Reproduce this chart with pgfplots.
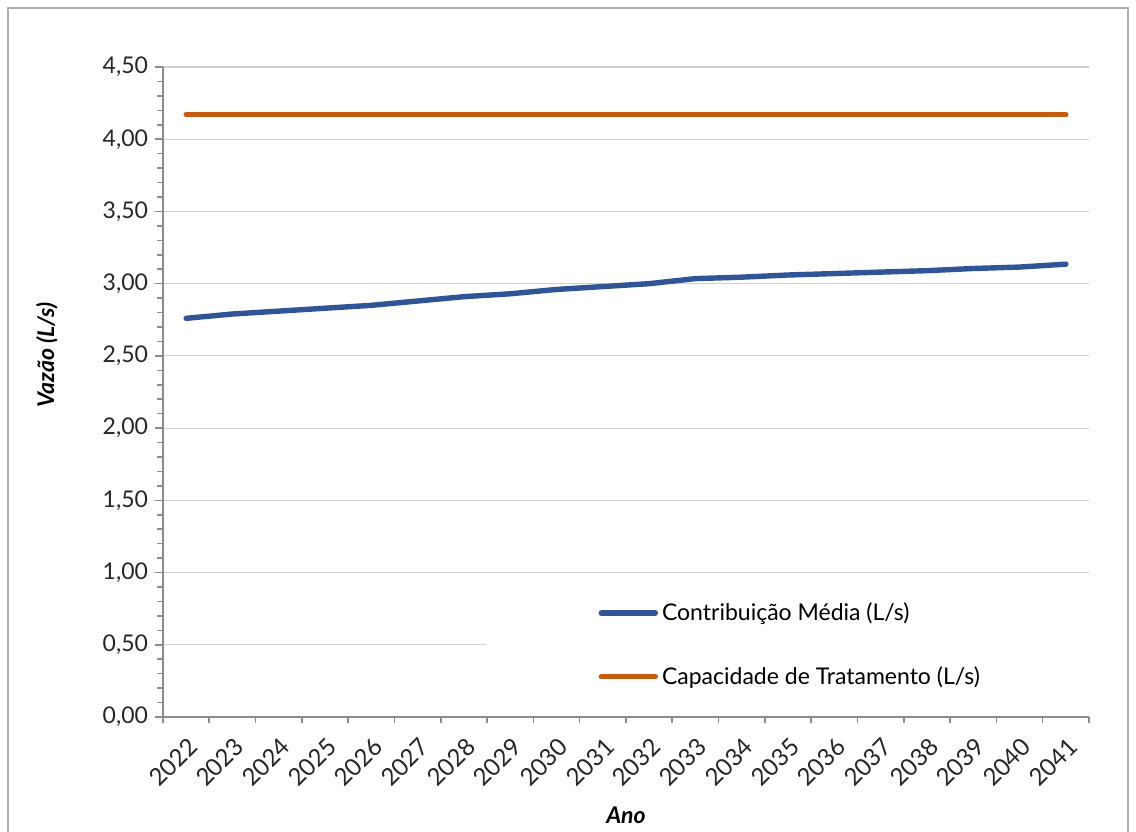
\documentclass[border=0pt]{standalone}
\usepackage{pgfplots}
\pgfplotsset{compat=1.18}
\usepackage{fontspec}
\setmainfont{Lato}

\definecolor{azul}{HTML}{2F5597}
\definecolor{laranja}{HTML}{C55A11}
\definecolor{eixo}{HTML}{8C8C8C}
\definecolor{grade}{HTML}{D0D0D0}

\begin{document}
\begin{tikzpicture}
\useasboundingbox (-81.5pt,-57pt) rectangle (486.5pt,358.5pt);
\draw[eixo!70, line width=0.6pt] (-77.5pt,-70pt) rectangle (482.5pt,354.5pt);
\begin{axis}[
  scale only axis,
  width=463pt, height=325pt,
  xmin=-0.5, xmax=19.5,
  ymin=0, ymax=4.5,
  xtick={0,...,19},
  xticklabels={2022,2023,2024,2025,2026,2027,2028,2029,2030,2031,2032,2033,2034,2035,2036,2037,2038,2039,2040,2041},
  major x tick style={draw=none},
  minor xtick={-0.5,0.5,...,19.5},
  x tick label style={rotate=45, anchor=north east, font=\fontsize{12}{14}\selectfont, text=black!85, inner sep=1pt, yshift=-3pt, xshift=-2.5pt},
  ytick={0,0.5,...,4.5},
  minor y tick num=4,
  y tick label style={font=\fontsize{11.5}{13}\selectfont, text=black!85, /pgf/number format/.cd, fixed, fixed zerofill, precision=2, use comma, assume math mode=true},
  tick align=outside,
  major tick length=4pt,
  minor tick length=3pt,
  every tick/.style={eixo, line width=0.8pt},
  axis x line*=bottom,
  axis y line*=left,
  axis line style={eixo, line width=0.9pt, -},
  ymajorgrids,
  major grid style={grade, line width=0.6pt},
  xlabel={\textbf{\textit{Ano}}},
  ylabel={\textbf{\textit{Vazão (L/s)}}},
  xlabel style={at={(axis description cs:0.5,0)}, anchor=center, yshift=-49pt, font=\fontsize{11.5}{13}\selectfont},
  ylabel style={at={(axis description cs:0,0.557)}, anchor=center, yshift=58pt, font=\fontsize{11.5}{13}\selectfont},
  legend style={draw=none, fill=none, at={(axis cs:8.9,0.176)}, anchor=south west, font=\fontsize{11.5}{13}\selectfont, row sep=17.5pt, inner sep=0pt},
  legend cell align=left,
  legend image code/.code={\draw[#1, line cap=round] (0cm,0cm) -- (27pt,0cm);},
]
\fill[white] (axis cs:6.48,0.2) rectangle (axis cs:19.5,0.98);
\addplot[azul, line width=2.7pt, line cap=round, line join=round] coordinates {
  (0,2.76) (1,2.79) (2,2.81) (3,2.83) (4,2.85) (5,2.88) (6,2.91) (7,2.93)
  (8,2.96) (9,2.98) (10,3.00) (11,3.035) (12,3.045) (13,3.06) (14,3.07)
  (15,3.08) (16,3.09) (17,3.105) (18,3.115) (19,3.135)
};
\addplot[laranja, line width=2.7pt, line cap=round] coordinates {
  (0,4.17) (1,4.17) (2,4.17) (3,4.17) (4,4.17) (5,4.17) (6,4.17) (7,4.17)
  (8,4.17) (9,4.17) (10,4.17) (11,4.17) (12,4.17) (13,4.17) (14,4.17)
  (15,4.17) (16,4.17) (17,4.17) (18,4.17) (19,4.17)
};
\legend{Contribuição Média (L/s), Capacidade de Tratamento (L/s)}
\end{axis}
\end{tikzpicture}
\end{document}
